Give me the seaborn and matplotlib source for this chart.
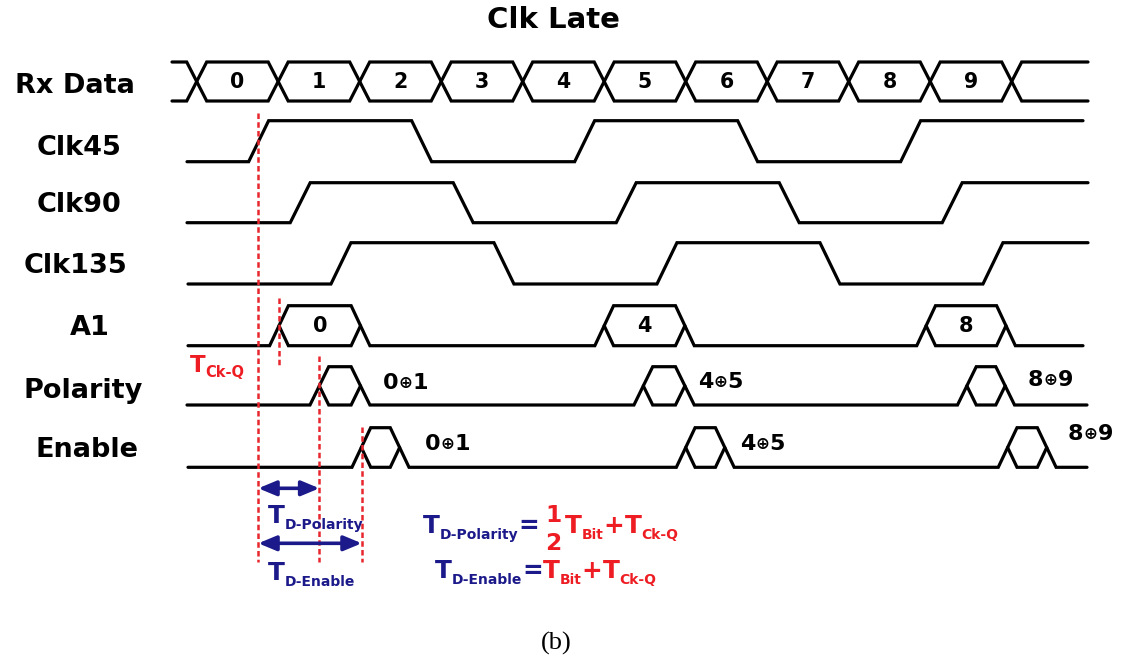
import numpy as np
import pandas as pd
import seaborn as sns
import matplotlib
matplotlib.use("Agg")
import matplotlib.pyplot as plt

# signal names and title
signals = ["Rx Data", "Clk45", "Clk90", "Clk135", "A1", "Polarity", "Enable"]
title = "Clk Late"

# Rx data: bit values and crossing times (in bit periods)
rx_bits = ["0", "1", "2", "3", "4", "5", "6", "7", "8", "9"]
rx_cross = [0, 1, 2, 3, 4, 5, 6, 7, 8, 9, 10]

# clock edges (bit periods), first edge is rising
clk45_edges = [0.76, 2.76, 4.76, 6.76, 8.76]
clk90_edges = [1.27, 3.27, 5.27, 7.27, 9.27]
clk135_edges = [1.77, 3.77, 5.77, 7.77, 9.77]

# bus valid windows (start, end) and their values
a1_windows = [(1.01, 2.01), (5.00, 5.99), (8.95, 9.93)]
a1_values = ["0", "4", "8"]
pol_windows = [(1.505, 2.01), (5.48, 5.99), (9.45, 9.92)]
pol_values = [("0", "1"), ("4", "5"), ("8", "9")]
en_windows = [(2.02, 2.49), (6.00, 6.48), (9.95, 10.43)]
en_values = [("0", "1"), ("4", "5"), ("8", "9")]

# red timing guides (bit periods)
guide_t = [0.756, 1.01, 1.505, 2.025]

# ---- layout (pixels) ----
W, H = 1125, 664
T0_PX, BIT_PX = 196.7, 81.5
NAVY = "#1c1a8a"
RED = "#ee1d23"
SUB_DY = 5.5


def px(x):
    return (x - T0_PX) / BIT_PX


sns.set_theme(style="white")
plt.rcParams["font.family"] = ["DejaVu Sans"]
plt.rcParams["text.color"] = "black"

fig = plt.figure(figsize=(W / 100, H / 100), dpi=100)
ax = fig.add_axes([0, 0, 1, 1])


def trace(xs, ys):
    sns.lineplot(x=xs, y=ys, sort=False, estimator=None, color="black",
                 linewidth=2.3, ax=ax, legend=False, solid_joinstyle="miter")


def clock(edges, start, end, hi, lo, high_first=False, w=0.245):
    lvl = [lo, hi]
    s = 1 if high_first else 0
    xs, ys = [start], [lvl[s]]
    for e in edges:
        xs += [e - w / 2, e + w / 2]
        ys += [lvl[s], lvl[1 - s]]
        s = 1 - s
    xs.append(end)
    ys.append(lvl[s])
    trace(xs, ys)


def bus(windows, start, end, top, bot, w=0.23):
    mid = (top + bot) / 2
    xs, ys = [start], [bot]
    for a, b in windows:
        xs += [a - w / 2, a + w / 2, b - w / 2, b + w / 2]
        ys += [bot, top, top, bot]
    xs.append(end)
    ys.append(bot)
    trace(xs, ys)
    for a, b in windows:
        trace([a, a + w / 2, b - w / 2, b], [mid, bot, bot, mid])


# Rx data (two crossing lines)
clock(rx_cross, px(172), px(1088), 62, 101, high_first=True)
clock(rx_cross, px(172), px(1088), 62, 101, high_first=False)
# clocks
clock(clk45_edges, px(187), px(1083), 120.7, 161.7)
clock(clk90_edges, px(187), px(1088), 182.7, 222.7)
clock(clk135_edges, px(188), px(1088), 242.7, 284)
# buses
bus(a1_windows, px(188), px(1083), 305.7, 345.7)
bus(pol_windows, px(187), px(1087), 366.7, 405)
bus(en_windows, px(188), px(1087), 427.7, 467.3)

ax.set_xlim(px(0), px(W))
ax.set_ylim(H, 0)
ax.axis("off")

renderer = fig.canvas.get_renderer()


def chain(x, y, parts):
    for s, size, color, dy in parts:
        t = ax.text(x, y + dy, s, fontsize=size, color=color,
                    fontweight="bold", ha="left", va="baseline")
        bb = t.get_window_extent(renderer)
        x = ax.transData.inverted().transform((bb.x1, 0))[0]
    return x


# red guides
guide_y = [(113, 562), (298, 368), (356, 562), (427, 562)]
for t, (y0, y1) in zip(guide_t, guide_y):
    ax.plot([t, t], [y0, y1], color="#e8262d", lw=1.8, dashes=(2.2, 1.3))

# title and row names
ax.text(px(553), 28.3, title, fontsize=21, fontweight="bold",
        ha="center", va="baseline")
name_pos = [(75, 93.3), (79, 155), (79, 212), (76, 273), (90, 335),
            (83, 398), (87, 457)]
for name, (x, y) in zip(signals, name_pos):
    ax.text(px(x), y, name, fontsize=19.5, fontweight="bold",
            ha="center", va="baseline")

# values
for k, b in enumerate(rx_bits):
    ax.text((rx_cross[k] + rx_cross[k + 1]) / 2, 88.3, b, fontsize=14.8,
            fontweight="bold", ha="center", va="baseline")
for (a, b), v in zip(a1_windows, a1_values):
    ax.text((a + b) / 2, 332.3, v, fontsize=15, fontweight="bold",
            ha="center", va="baseline")

for (u, v), (x, y) in zip(pol_values, [(383, 389), (698, 388.3), (1028, 386)]):
    chain(px(x), y, [(u, 16, "black", 0), ("\u2295", 12, "black", -1),
                     (v, 16, "black", 0)])
for (u, v), (x, y) in zip(en_values, [(425, 450), (740, 450), (1068, 440)]):
    chain(px(x), y, [(u, 16, "black", 0), ("\u2295", 12, "black", -1),
                     (v, 16, "black", 0)])

# T Ck-Q
chain(px(190), 371.7, [("T", 16.5, RED, 0), ("Ck-Q", 10.5, RED, SUB_DY)])

# arrows
arrow_y = [488.3, 543.3]
arrow_t = [(guide_t[0], guide_t[2]), (guide_t[0], guide_t[3])]
for y, (a, b) in zip(arrow_y, arrow_t):
    ax.annotate("", xy=(b, y), xytext=(a, y),
                arrowprops=dict(arrowstyle="<|-|>,head_length=0.6,head_width=0.25",
                                color=NAVY, lw=2.6, mutation_scale=18,
                                shrinkA=0, shrinkB=0))

chain(px(268), 523.3, [("T", 17.8, NAVY, 0), ("D-Polarity", 10, NAVY, SUB_DY)])
chain(px(268), 580, [("T", 17.8, NAVY, 0), ("D-Enable", 10, NAVY, SUB_DY)])

# formulas
chain(px(423), 533.3, [("T", 17.8, NAVY, 0), ("D-Polarity", 10, NAVY, SUB_DY),
                       ("=", 17.8, NAVY, 0)])
ax.text(px(553), 521.7, "1", fontsize=16.8, fontweight="bold", color=RED,
        ha="center", va="baseline")
ax.text(px(553), 550, "2", fontsize=16.8, fontweight="bold", color=RED,
        ha="center", va="baseline")
chain(px(565), 533.3, [("T", 17.8, RED, 0), ("Bit", 10, RED, SUB_DY),
                       ("+", 17.8, RED, 0), ("T", 17.8, RED, 0),
                       ("Ck-Q", 10, RED, SUB_DY)])
chain(px(435), 578.3, [("T", 17.8, NAVY, 0), ("D-Enable", 10, NAVY, SUB_DY),
                       ("=", 17.8, NAVY, 0), ("T", 17.8, RED, 0),
                       ("Bit", 10, RED, SUB_DY), ("+", 17.8, RED, 0),
                       ("T", 17.8, RED, 0), ("Ck-Q", 10, RED, SUB_DY)])

ax.text(px(556), 643, "(b)", fontsize=19, family="Liberation Serif",
        color="black", ha="center", va="center")

fig.savefig("out.png", dpi=100)
